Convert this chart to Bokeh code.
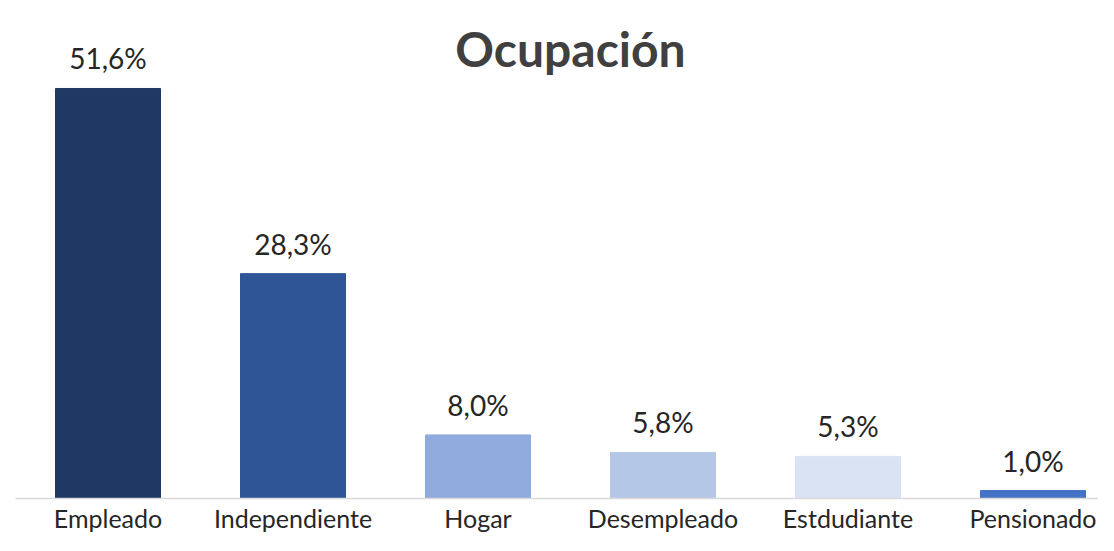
from bokeh.plotting import figure
from bokeh.models import Range1d, ColumnDataSource, Label, FixedTicker
from bokeh.core.properties import value
from bokeh.embed import file_html
from bokeh.resources import INLINE

categories = ["Empleado", "Independiente", "Hogar", "Desempleado", "Estdudiante", "Pensionado"]
values = [51.6, 28.3, 8.0, 5.8, 5.3, 1.0]
colors = ["#203864", "#2F5597", "#8FAADC", "#B4C7E7", "#DAE3F3", "#4472C4"]
title_text = "Ocupación"

xs = list(range(len(categories)))
labels = [f"{v:.1f}".replace(".", ",") + "%" for v in values]

src = ColumnDataSource(dict(x=xs, top=values, color=colors, label=labels))

FONT = "Lato"
PX_PER_UNIT_Y = 7.946
PX_PER_UNIT_X = 185

p = figure(width=1098, height=535, output_backend="svg", toolbar_location=None,
           x_range=Range1d(-0.5, -0.5 + 1083 / PX_PER_UNIT_X),
           y_range=Range1d(0, 498 / PX_PER_UNIT_Y),
           min_border_left=15, min_border_right=0, min_border_top=0, min_border_bottom=37)
p.outline_line_color = None
p.xgrid.visible = False
p.ygrid.visible = False
p.yaxis.visible = False
p.background_fill_color = "white"
p.border_fill_color = "white"

p.vbar(x="x", top="top", bottom=0, width=105 / PX_PER_UNIT_X, color="color", source=src)
p.text(x="x", y="top", text="label", source=src, text_align="center", text_baseline="bottom",
       y_offset=-13, text_font=value(FONT), text_font_size="28px", text_color="#262626")

ax = p.xaxis[0]
ax.ticker = FixedTicker(ticks=xs)
ax.major_label_overrides = {i: c for i, c in zip(xs, categories)}
ax.major_tick_line_color = None
ax.minor_tick_line_color = None
ax.major_tick_out = 0
ax.major_tick_in = 0
ax.axis_line_color = "#D9D9D9"
ax.axis_line_width = 1.5
ax.major_label_standoff = 4
ax.major_label_text_font = FONT
ax.major_label_text_font_size = "25px"
ax.major_label_text_color = "#262626"

p.add_layout(Label(x=2.5, y=(498 - 48) / PX_PER_UNIT_Y, text=title_text, text_align="center",
                   text_baseline="alphabetic", text_font=FONT, text_font_size="48px",
                   text_font_style="bold", text_color="#404040"))

open("out.html", "w").write(file_html(p, INLINE))
